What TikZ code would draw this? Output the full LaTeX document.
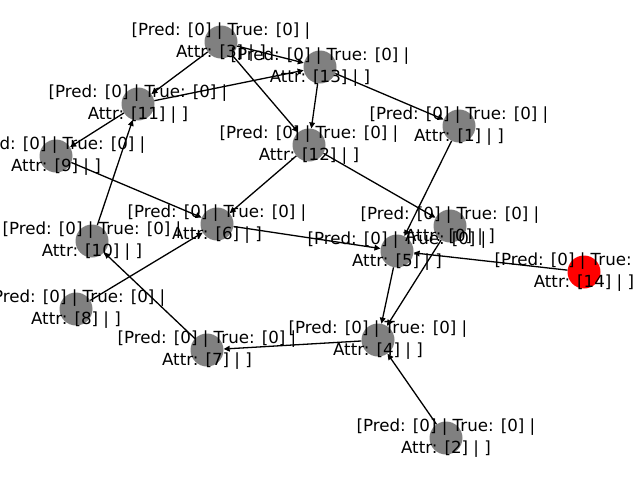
\documentclass[tikz,border=0pt]{standalone}
\usepackage{fontspec}
\setmainfont{DejaVu Sans}
\usetikzlibrary{arrows.meta}
\definecolor{vgray}{HTML}{808080}
\definecolor{vred}{HTML}{FF0000}
\begin{document}
\begin{tikzpicture}[x=1pt,y=-1pt,
  vtx/.style={circle,fill=vgray,draw=none,minimum size=33pt,inner sep=0pt},
  hot/.style={vtx,fill=vred},
  lbl/.style={align=center,font=\fontsize{16.67}{22}\selectfont,inner sep=0pt},
  link/.style={draw=black,line width=1.3pt,-{Triangle[length=6pt,width=5.6pt]}}
]
\useasboundingbox (0,0) rectangle (640,480);
\clip (0,0) rectangle (640,480);

% vertices
\foreach \id/\px/\py in {3/221/42, 13/320/67, 11/138/104, 9/56/156, 12/309/145,
    1/459/126, 6/217/224, 10/92/241, 0/450/226, 5/397/251, 8/76/309,
    7/207/350, 4/378/340, 2/446/438}
  {\node[vtx] (n\id) at (\px,\py) {};}
\node[hot] (n14) at (584,272) {};

% directed links
\foreach \a/\b in {3/11, 3/13, 3/12, 11/13, 13/12, 13/1, 11/9, 9/6, 10/11,
    12/6, 12/0, 1/5, 6/5, 14/5, 8/6, 7/10, 4/7, 5/4, 0/4, 2/4}
  {\path[link] (n\a) -- (n\b);}

% labels
\foreach \id/\px/\py in {3/221/42, 13/320/67, 11/138/104, 9/56/156, 12/309/145,
    1/459/126, 6/217/224, 10/92/241, 0/450/226, 5/397/251, 8/76/309,
    7/207/350, 4/378/340, 2/446/438, 14/584/272}
  {\node[lbl] (t\id) at (\px,\py) {[Pred: [0] | True: [0] |\\Attr: [\id] | ]};}
\end{tikzpicture}
\end{document}
